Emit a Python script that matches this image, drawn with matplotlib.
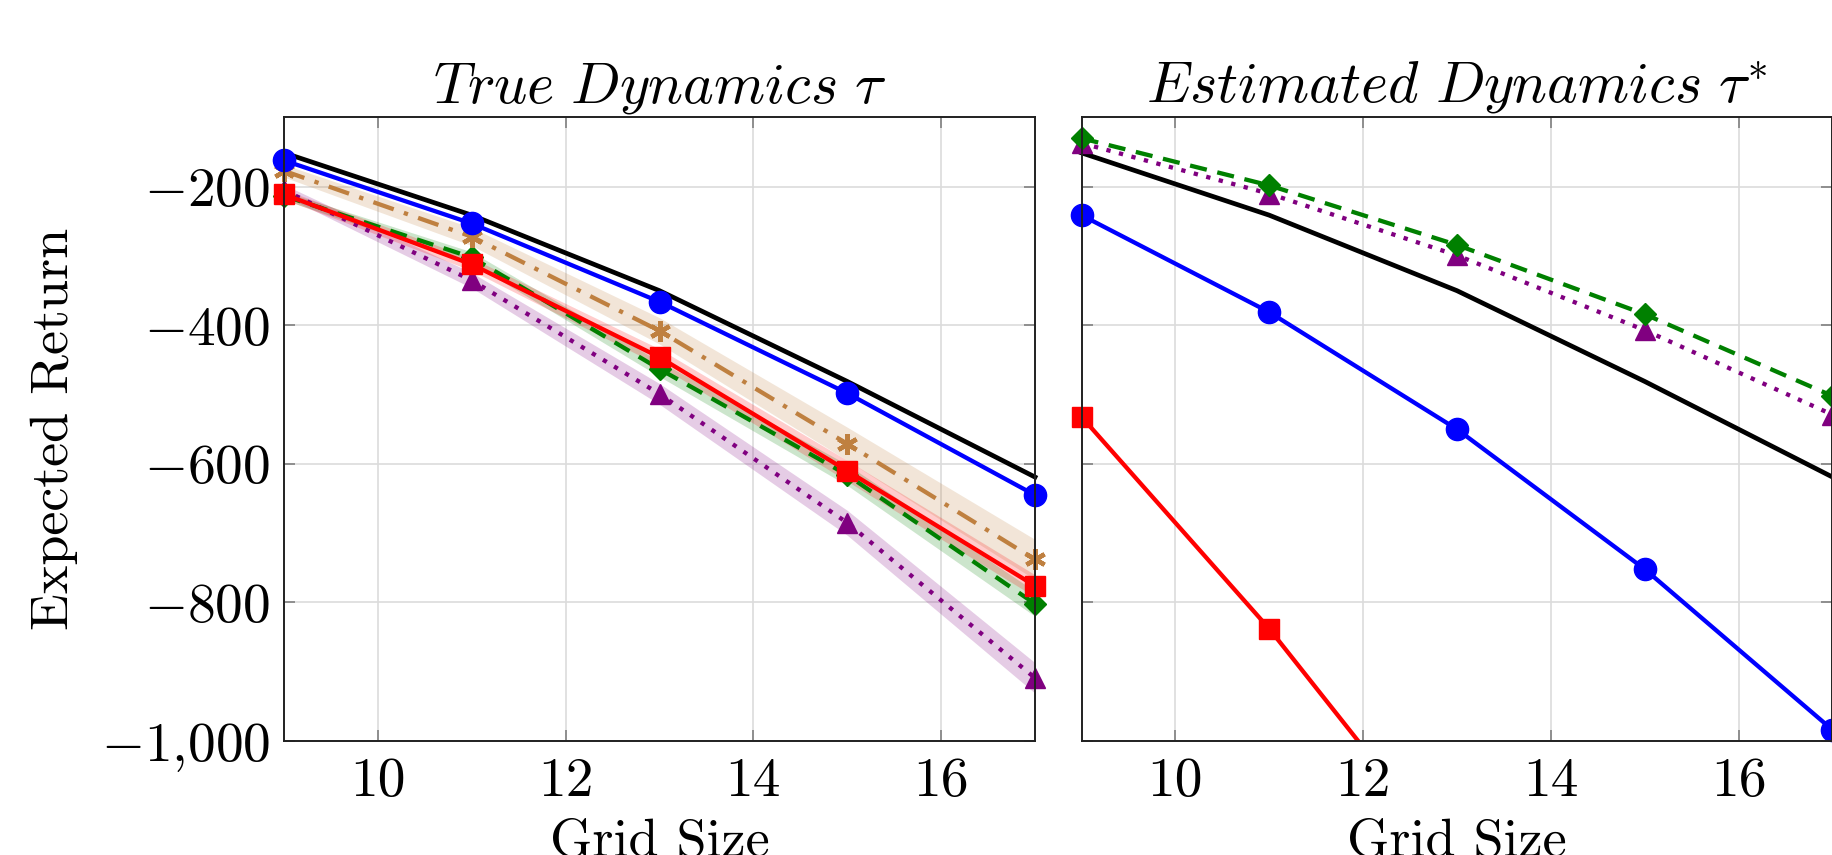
import matplotlib
matplotlib.use("Agg")
import matplotlib.pyplot as plt
from matplotlib.transforms import Bbox, TransformedBbox
import numpy as np

plt.rcParams['font.family'] = 'cmr10'
plt.rcParams['mathtext.fontset'] = 'cm'
plt.rcParams['axes.formatter.use_mathtext'] = True

grid_sizes = [9, 11, 13, 15, 17]

# True dynamics panel
true_black = [-151, -241, -350, -481, -619]
true_blue = [-162, -253, -366, -498, -645]
true_brown = [-177, -272, -408, -571, -738]
true_brown_err = [9, 13, 19, 24, 29]
true_red = [-211, -312, -446, -610, -776]
true_red_err = [7, 9, 12, 15, 16]
true_green = [-213, -302, -463, -616, -802]
true_green_err = [6, 8, 11, 15, 18]
true_purple = [-205, -335, -499, -685, -909]
true_purple_err = [8, 11, 15, 18, 22]

# Estimated dynamics panel
est_black = [-151, -241, -350, -481, -619]
est_green = [-130, -198, -284, -384, -502]
est_purple = [-137, -210, -299, -407, -529]
est_blue = [-241, -381, -550, -752, -984]
est_red = [-532, -838, -1180, -1500, -1850]

y_ticks = [-1000, -800, -600, -400, -200]
y_tick_labels = [r'$-1{,}000$', r'$-800$', r'$-600$', r'$-400$', r'$-200$']
x_ticks = [10, 12, 14, 16]
x_tick_labels = ['10', '12', '14', '16']

titles = [r'$\mathit{True\ Dynamics}\ \tau$', r'$\mathit{Estimated\ Dynamics}\ \tau^{*}$']
x_label = 'Grid Size'
y_label = 'Expected Return'

BLUE = '#0000FF'
RED = '#FF0000'
GREEN = '#008000'
PURPLE = '#800080'
BROWN = '#BF8040'

W, H = 1833, 855
fig = plt.figure(figsize=(W / 100, H / 100), dpi=100)
axw = 751 / W
axh = 623.5 / H
bot = (855 - 741) / H
ax1 = fig.add_axes([284 / W, bot, axw, axh])
ax2 = fig.add_axes([1081.5 / W, bot, axw, axh])

LW = 3.1
asterisk = (6, 2, 0)


def style(ax, show_y):
    ax.set_xlim(9, 17)
    ax.set_ylim(-1000, -100)
    ax.set_xticks(x_ticks)
    ax.set_xticklabels(x_tick_labels)
    ax.set_yticks(y_ticks)
    if show_y:
        ax.set_yticklabels(y_tick_labels)
    else:
        ax.set_yticklabels([])
    ax.grid(True, color='#dcdcdc', lw=1.2)
    ax.set_axisbelow(True)
    ax.tick_params(direction='in', top=True, right=True, length=8, width=1.2,
                   color='#808080', labelsize=40)
    ax.tick_params(axis='x', pad=12)
    ax.tick_params(axis='y', pad=10)
    for s in ax.spines.values():
        s.set_linewidth(1.4)
        s.set_color('#202020')
    ax.set_xlabel(x_label, fontsize=39)
    ax.xaxis.set_label_coords(0.5, -0.125)


def band(ax, y, e, color):
    y = np.array(y)
    e = np.array(e)
    ax.fill_between(grid_sizes, y - e, y + e, color=color, alpha=0.2, lw=0)


# Left panel
style(ax1, True)
band(ax1, true_purple, true_purple_err, PURPLE)
band(ax1, true_green, true_green_err, GREEN)
band(ax1, true_brown, true_brown_err, BROWN)
band(ax1, true_red, true_red_err, RED)
ax1.plot(grid_sizes, true_black, color='black', lw=LW + 0.3, clip_on=False)
ax1.plot(grid_sizes, true_purple, color=PURPLE, lw=LW, ls=(0, (1, 2)), marker='^', ms=15, clip_on=False)
ax1.plot(grid_sizes, true_green, color=GREEN, lw=LW, ls=(0, (4, 2.5)), marker='D', ms=11, clip_on=False)
ax1.plot(grid_sizes, true_brown, color=BROWN, lw=LW, ls=(0, (5, 2.5, 1, 2.5)), marker=asterisk, ms=15, mew=3.2, clip_on=False)
ax1.plot(grid_sizes, true_red, color=RED, lw=LW, marker='s', ms=15, clip_on=False)
ax1.plot(grid_sizes, true_blue, color=BLUE, lw=LW, marker='o', ms=16, clip_on=False)
ax1.set_title(titles[0], fontsize=42, pad=11)
ax1.set_ylabel(y_label, fontsize=39)
ax1.yaxis.set_label_coords(-0.274, 0.5)

# Right panel
style(ax2, False)
ax2.plot(grid_sizes, est_black, color='black', lw=LW + 0.3, clip_on=False)
ax2.plot(grid_sizes, est_purple, color=PURPLE, lw=LW, ls=(0, (1, 2)), marker='^', ms=15, clip_on=False)
ax2.plot(grid_sizes, est_green, color=GREEN, lw=LW, ls=(0, (4, 2.5)), marker='D', ms=11, clip_on=False)
red_line, = ax2.plot(grid_sizes, est_red, color=RED, lw=LW, marker='s', ms=15)
red_line.set_clip_box(TransformedBbox(Bbox([[-0.1, 0.0], [1.1, 1.2]]), ax2.transAxes))
ax2.plot(grid_sizes, est_blue, color=BLUE, lw=LW, marker='o', ms=16, clip_on=False)
ax2.set_title(titles[1], fontsize=42, pad=11)

fig.savefig('out.png', dpi=100)
